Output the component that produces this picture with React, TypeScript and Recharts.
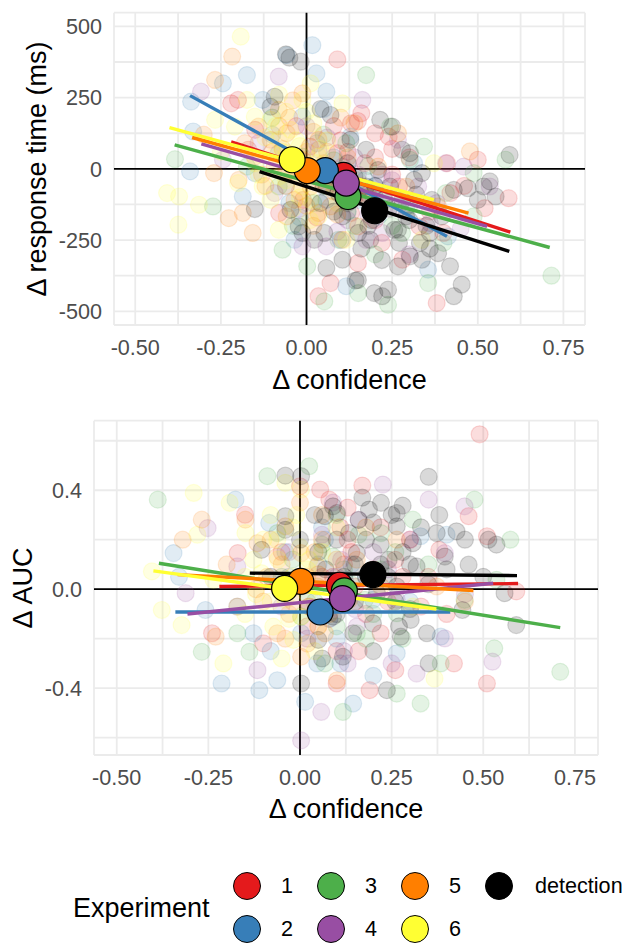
import React from "react";
import { ScatterChart, Scatter, XAxis, YAxis, CartesianGrid, ReferenceLine } from "recharts";

type Pt = [number, number];

const FONT = '"Liberation Sans", Arial, Helvetica, sans-serif';

const experiments = ["1", "2", "3", "4", "5", "6", "detection"];
const colors = ["#E41A1C", "#377EB8", "#4DAF4A", "#984EA3", "#FF7F00", "#FFFF33", "#000000"];

// axes
const confDomain = [-0.562, 0.813];
const confTicks = [-0.5, -0.375, -0.25, -0.125, 0, 0.125, 0.25, 0.375, 0.5, 0.625, 0.75];
const confMajor = [-0.5, -0.25, 0, 0.25, 0.5, 0.75];
const rtDomain = [-548, 548];
const rtTicks = [-500, -375, -250, -125, 0, 125, 250, 375, 500];
const rtMajor = [-500, -250, 0, 250, 500];
const aucDomain = [-0.67, 0.681];
const aucTicks = [-0.6, -0.4, -0.2, 0, 0.2, 0.4, 0.6];
const aucMajor = [-0.4, 0, 0.4];

// participants: [Δ confidence, Δ response time]
const rtExp1: Pt[] = [
  [0.09, 384], [-0.22, 230], [0.13, 160], [0.15, 168], [0.2, 125], [0.41, 20], [0.5, 32], [0.59, -103],
  [0.52, -138], [0.38, -471], [0.035, -447], [0.07, -401], [0.33, -202], [-0.08, -155], [-0.17, 67],
  [-0.15, 137], [0.16, 195], [0.24, 113], [0.27, -62], [0.42, -85], [0.13, -155], [-0.01, -109],
  [0.22, -260], [0.4, -225], [0.28, -319], [0.15, -331], [0.09, 55], [0.01, 78], [-0.06, -15],
  [-0.2, 242], [0.11, -40], [0.18, -90], [0.05, 10], [0.3, 40], [0.36, -150], [0.46, -60], [0.2, -180],
  [0.1, 100], [-0.03, 150], [0.25, -20], [0.12, 60], [0.17, 20], [0.06, -60], [0.2, 40], [0.14, -100],
  [0.03, -170], [0.25, 70], [0.08, 150],
];
const rtExp2: Pt[] = [
  [0.017, 434], [-0.058, 399], [-0.174, 329], [0.029, 335], [0.058, 271], [-0.337, 236], [-0.331, 131],
  [-0.34, -9], [-0.186, -97], [-0.035, -249], [0.116, -412], [0.355, -354], [0.413, -237], [-0.151, -15],
  [-0.081, 55], [0.128, 113], [-0.012, 183], [-0.128, 242], [0.209, -167], [0.291, -132], [0.314, 20],
  [-0.244, 300], [0.058, -109], [0.151, -109], [0.012, -27], [0.08, 40], [-0.1, 120], [0.2, -60],
  [0.1, -250], [-0.05, -120], [0.03, 90], [-0.03, 20], [0.09, -30], [-0.06, -60], [0.05, 210],
  [0.17, -40], [-0.02, -170], [0.12, -150],
];
const rtExp3: Pt[] = [
  [0.174, 329], [0.715, -375], [0.581, 32], [-0.384, 34], [-0.273, -132], [-0.07, -284], [0.002, -342],
  [0.052, -465], [0.238, -477], [0.355, -401], [0.343, 78], [0.244, 148], [0.116, 90], [0.198, -85],
  [0.279, -225], [0.407, -85], [0.488, -167], [-0.081, -62], [-0.174, 8], [0.093, -249], [0.151, -436],
  [0.058, -62], [-0.012, 43], [0.302, 32], [0.488, -15], [0.12, -150], [0.2, -300], [0.05, 120],
  [-0.1, 180], [0.3, -130], [0.15, -40], [0.4, -260], [0.25, -200], [0.08, 30], [0.02, -120],
  [0.14, -200], [0.18, 10], [0.1, -60], [-0.04, -200], [0.22, -120], [0.06, -30],
];
const rtExp4: Pt[] = [
  [-0.308, 271], [-0.081, 324], [0.174, -249], [0.221, -225], [0.058, -272], [0.407, 20], [0.459, 8],
  [0.36, -190], [0.163, 242], [0.035, 67], [0.105, 8], [0.267, -132], [-0.012, -272], [-0.14, 90],
  [-0.244, 32], [0.326, -62], [0.535, -62], [0.116, -109], [-0.093, -85], [0.267, 102], [0.08, -50],
  [0.2, -100], [0.15, -20], [0.45, -210], [0.3, -300], [0.0, 150], [0.12, -180], [-0.05, 20],
  [0.25, -40], [0.38, -120], [0.1, -80], [0.04, -20], [0.14, 40], [0.18, -160], [0.06, 110],
  [-0.02, -140], [0.22, -20], [0.09, -220],
];
const rtExp5: Pt[] = [
  [-0.217, 394], [-0.267, 312], [-0.27, -15], [-0.227, -173], [-0.186, -155], [-0.157, -225], [0.477, 61],
  [0.14, 160], [-0.012, 32], [-0.081, 207], [-0.105, 102], [-0.151, 43], [-0.198, -39], [-0.058, 125],
  [0.035, 102], [0.012, -62], [-0.035, -109], [0.07, -132], [0.105, -249], [0.151, -202], [0.209, 8],
  [0.267, 125], [-0.093, 8], [-0.012, 265], [0.035, -155], [-0.14, 148], [0.128, -39], [0.384, -132],
  [0.291, -62], [-0.058, -167], [0.0, 60], [-0.03, -20], [0.05, 20], [0.08, -80], [-0.12, -60],
  [0.02, -200], [-0.07, 70], [0.1, 180], [0.18, -100], [-0.3, 120], [-0.08, 150], [-0.1, 60],
  [-0.05, 180], [0.02, 130], [-0.02, -80], [0.04, -40], [-0.13, -20], [0.06, 60], [-0.06, -60],
  [0.12, 40], [0.16, -60], [-0.04, 240], [0.0, -130], [0.09, -160], [-0.18, 90],
];
const rtExp6: Pt[] = [
  [-0.192, 464], [-0.372, -97], [-0.314, -126], [-0.374, -196], [-0.081, -214], [-0.407, -85],
  [-0.047, 137], [-0.012, 242], [0.012, 300], [-0.174, 242], [-0.151, 183], [-0.105, 172], [-0.081, 102],
  [-0.058, 55], [-0.035, 8], [-0.012, -62], [0.012, -109], [0.035, -167], [0.105, 230], [0.116, -249],
  [-0.128, -62], [-0.081, -27], [0.035, 43], [-0.267, 172], [-0.209, 148], [-0.105, -109], [0.337, -249],
  [0.372, 20], [-0.02, 80], [-0.06, 200], [0.0, -20], [-0.15, 20], [0.06, 100], [-0.04, -140],
  [-0.1, 40], [0.02, 160], [-0.25, 60], [0.08, -60], [-0.09, 150], [-0.03, 100], [-0.07, 60],
  [0.0, 200], [0.04, 70], [-0.12, 110], [-0.02, -100], [0.05, -30], [-0.06, -40], [0.03, 20],
  [-0.14, -20], [-0.08, 260], [0.09, -120], [-0.2, -50], [0.01, -180],
];
const rtDetection: Pt[] = [
  [-0.06, 402], [-0.017, 376], [-0.05, 390], [-0.151, -141], [-0.023, -202], [0.052, -225], [0.058, -348],
  [0.105, -319], [0.143, -392], [0.15, -390], [0.198, -436], [0.221, -447], [0.238, -424], [0.267, -342],
  [0.302, -307], [0.337, -319], [0.36, -225], [0.384, -296], [0.419, -342], [0.43, -447], [0.453, -406],
  [0.43, -74], [0.471, -68], [0.535, -44], [0.552, -97], [0.593, 49], [0.215, 172], [0.25, 148],
  [0.279, 67], [0.302, 55], [0.337, -15], [0.314, -39], [0.174, 67], [0.128, 102], [0.07, 189],
  [0.041, 210], [-0.093, 253], [-0.105, 218], [-0.047, -144], [-0.012, -225], [0.023, -249],
  [0.105, -167], [0.151, -225], [0.186, -249], [0.227, -109], [0.256, -214], [0.291, -167], [0.331, -260],
  [0.366, -109], [0.395, -167], [0.5, -109], [0.517, -62], [0.174, -62], [0.209, -4], [0.14, -27],
  [0.093, -85], [0.244, -62], [0.267, -214], [0.12, -120], [0.19, -180], [0.28, -110], [0.35, -200],
  [0.1, -20], [0.15, -100], [0.2, -60], [0.24, -140], [0.3, -180], [0.05, -60], [0.08, -150],
  [0.16, -280], [0.22, -320], [0.27, -260], [0.32, -90], [0.12, 20], [0.04, -120], [0.18, -200],
  [0.36, -280],
];

// participants: [Δ confidence, Δ AUC]
const aucExp1: Pt[] = [
  [0.49, 0.626], [0.17, 0.419], [0.055, 0.403], [-0.15, 0.301], [0.46, 0.295], [0.51, 0.214],
  [0.51, -0.381], [0.59, -0.009], [0.19, -0.408], [0.1, -0.381], [0.26, -0.327], [-0.24, -0.178],
  [-0.1, -0.219], [0.0, 0.416], [0.08, 0.362], [0.13, 0.2], [0.38, 0.159], [-0.17, 0.146], [0.15, 0.011],
  [0.22, -0.178], [0.26, 0.119], [0.33, -0.07], [0.025, -0.07], [-0.06, 0.011], [0.11, 0.25],
  [0.2, 0.08], [0.3, 0.2], [0.4, -0.1], [0.05, -0.15], [0.16, -0.25], [0.09, 0.05], [0.35, 0.05],
  [-0.05, 0.15], [0.24, -0.05], [0.13, 0.33], [0.42, -0.3], [0.12, 0.1], [0.06, 0.05], [0.18, -0.1],
  [0.14, 0.15], [0.22, 0.25], [0.02, -0.15], [0.28, 0.05], [0.1, -0.25],
];
const aucExp2: Pt[] = [
  [-0.345, 0.146], [-0.176, 0.362], [-0.214, -0.381], [-0.111, -0.408], [0.014, -0.455], [0.145, -0.462],
  [0.384, -0.192], [0.4, 0.22], [0.329, 0.214], [-0.062, -0.368], [0.047, -0.3], [-0.258, -0.084],
  [-0.127, -0.178], [-0.084, 0.268], [0.068, 0.2], [0.123, 0.038], [0.199, -0.043], [0.264, -0.259],
  [0.003, -0.178], [-0.171, -0.07], [0.1, -0.2], [-0.03, 0.05], [0.2, -0.35], [0.05, 0.1], [0.3, -0.05],
  [-0.33, 0.05], [0.02, -0.05], [0.08, -0.12], [-0.04, 0.15], [0.14, 0.1], [0.06, 0.25], [-0.08, -0.25],
  [0.18, 0.05], [0.11, -0.3],
];
const aucExp3: Pt[] = [
  [-0.388, 0.362], [0.71, -0.334], [0.574, 0.2], [0.476, 0.362], [-0.089, 0.457], [0.025, 0.497],
  [-0.268, -0.253], [-0.138, -0.253], [0.117, -0.496], [0.329, -0.462], [0.53, -0.239], [0.384, -0.3],
  [0.264, -0.422], [-0.171, -0.178], [0.003, -0.111], [0.155, -0.178], [0.221, 0.227], [0.308, 0.281],
  [-0.062, 0.227], [0.09, 0.132], [0.177, -0.043], [0.449, -0.043], [0.264, -0.097], [0.068, -0.3],
  [0.536, 0.038], [0.12, 0.08], [0.2, -0.1], [0.35, 0.1], [-0.05, 0.05], [0.1, 0.3], [0.28, -0.2],
  [0.04, -0.05], [0.14, 0.02], [0.06, 0.18], [0.18, -0.2], [0.22, 0.08], [0.1, -0.15], [-0.02, 0.12],
  [0.26, 0.15], [0.16, 0.22],
];
const aucExp4: Pt[] = [
  [0.226, 0.423], [0.351, 0.362], [0.449, 0.335], [-0.312, -0.016], [-0.252, 0.247], [0.003, -0.611],
  [0.058, -0.496], [-0.116, -0.327], [0.525, -0.293], [0.395, -0.199], [0.318, -0.341], [0.155, -0.151],
  [0.112, 0.119], [0.395, 0.146], [-0.051, -0.07], [0.264, -0.043], [0.047, 0.011], [-0.171, 0.092],
  [0.12, -0.25], [0.2, 0.05], [0.08, -0.12], [0.3, 0.2], [0.16, 0.28], [-0.03, 0.15], [0.25, -0.3],
  [0.45, -0.02], [0.1, 0.05], [0.15, -0.08], [0.06, 0.22], [0.2, 0.15], [0.02, -0.2], [0.13, -0.3],
  [0.24, 0.08], [0.09, 0.35],
];
const aucExp5: Pt[] = [
  [-0.268, 0.281], [-0.23, -0.192], [-0.149, 0.281], [-0.116, 0.186], [-0.062, 0.132], [0.003, 0.146],
  [0.047, 0.092], [-0.018, 0.011], [0.025, -0.07], [0.068, -0.178], [0.101, -0.368], [-0.062, -0.178],
  [-0.171, -0.07], [0.155, 0.119], [0.221, 0.011], [0.264, 0.2], [0.134, -0.043], [0.373, 0.011],
  [-0.04, 0.254], [0.003, -0.273], [-0.09, 0.05], [0.0, 0.35], [0.06, 0.2], [-0.03, -0.1], [0.1, 0.03],
  [-0.2, 0.1], [0.45, -0.05], [-0.32, 0.2], [0.02, -0.22], [0.18, 0.25], [-0.1, -0.05], [0.05, 0.06],
  [-0.05, 0.1], [0.02, 0.05], [-0.08, 0.2], [0.04, 0.15], [-0.02, -0.05], [0.08, -0.1], [-0.12, 0.0],
  [0.06, 0.3], [-0.04, -0.2], [0.1, 0.12],
];
const aucExp6: Pt[] = [
  [-0.29, 0.389], [-0.192, 0.349], [-0.404, 0.072], [-0.377, -0.084], [-0.323, -0.145], [-0.209, -0.3],
  [0.367, -0.361], [-0.04, 0.43], [0.003, 0.403], [-0.062, 0.2], [-0.105, 0.065], [-0.04, -0.043],
  [0.003, -0.111], [-0.018, -0.205], [-0.073, -0.151], [0.047, 0.011], [-0.149, 0.227], [0.025, 0.119],
  [-0.127, 0.119], [0.123, 0.011], [-0.236, 0.038], [0.308, -0.07], [-0.02, 0.05], [-0.08, -0.05],
  [0.0, 0.17], [-0.05, -0.28], [0.05, -0.15], [-0.15, -0.1], [0.1, 0.25], [-0.01, 0.3], [-0.28, 0.22],
  [0.02, -0.02], [-0.06, 0.12], [-0.1, 0.2], [0.02, 0.08], [-0.03, -0.12], [-0.08, 0.3], [0.04, -0.25],
  [-0.12, -0.02], [0.06, 0.15], [-0.02, 0.25], [-0.15, 0.05],
];
const aucDetection: Pt[] = [
  [0.351, 0.454], [-0.04, 0.459], [0.003, 0.457], [0.28, 0.338], [0.264, 0.308], [0.221, 0.349],
  [0.188, 0.322], [0.09, 0.335], [0.068, 0.295], [-0.04, 0.295], [-0.105, 0.159], [-0.04, 0.24],
  [0.373, 0.227], [0.427, 0.234], [0.536, 0.18], [0.46, 0.099], [0.558, -0.016], [0.59, -0.145],
  [0.443, -0.084], [0.351, -0.3], [0.346, -0.178], [0.275, -0.192], [0.237, -0.408], [0.199, -0.138],
  [0.145, -0.178], [0.117, -0.273], [0.003, -0.381], [0.05, -0.205], [0.09, -0.111], [0.308, 0.186],
  [0.318, 0.092], [0.242, 0.119], [0.155, 0.146], [0.134, 0.227], [0.101, 0.308], [0.264, 0.254],
  [0.514, 0.2], [0.395, 0.132], [0.21, -0.016], [0.302, -0.124], [0.264, 0.011], [0.05, 0.15],
  [0.12, 0.05], [0.18, 0.2], [0.22, 0.1], [0.28, 0.15], [0.35, 0.02], [0.4, 0.08], [0.15, -0.05],
  [0.3, -0.08], [0.1, -0.1], [0.25, 0.3], [0.45, 0.2], [0.2, -0.25], [0.06, -0.28], [0.38, 0.3],
  [0.5, 0.05], [0.27, -0.15], [0.17, 0.37], [-0.08, 0.05], [0.0, 0.2], [0.1, 0.2], [0.15, 0.1],
  [0.2, 0.27], [0.24, 0.05], [0.3, 0.1], [0.07, 0.08], [0.12, -0.02], [0.18, 0.05], [0.26, -0.05],
  [0.33, 0.25], [0.22, 0.18], [0.04, 0.3], [0.16, 0.28],
];

const rtPoints = [rtExp1, rtExp2, rtExp3, rtExp4, rtExp5, rtExp6, rtDetection];
const aucPoints = [aucExp1, aucExp2, aucExp3, aucExp4, aucExp5, aucExp6, aucDetection];

// group means
const meanConf = [0.108, 0.055, 0.121, 0.116, 0.002, -0.042, 0.199];
const meanRt = [-23, -6, -97, -50, -6, 32, -147];
const meanAuc = [0.016, -0.092, -0.007, -0.038, 0.032, 0.003, 0.059];

// linear fits, drawn over each group's confidence range
const fitFrom = [-0.22, -0.34, -0.385, -0.307, -0.334, -0.4, -0.137];
const fitTo = [0.595, 0.41, 0.71, 0.527, 0.473, 0.372, 0.592];
const rtFitStart = [95, 257, 84, 88, 110, 145, -10];
const rtFitEnd = [-222, -237, -276, -202, -155, -109, -290];
const aucFitStart = [0.011, -0.092, 0.105, -0.1, 0.059, 0.074, 0.065];
const aucFitEnd = [0.023, -0.092, -0.155, 0.024, -0.005, -0.08, 0.055];

const fmtConf = (v: number) => (confMajor.includes(v) ? v.toFixed(2) : "");

const smallDot = (color: string) => (p: any) => (
  <circle cx={p.cx} cy={p.cy} r={8.5} fill={color} fillOpacity={0.15} stroke={color} strokeOpacity={0.15} strokeWidth={1.2} />
);
const bigDot = (p: any) => (
  <circle cx={p.cx} cy={p.cy} r={13} fill={colors[p.payload.g]} stroke="#000" strokeWidth={1.2} />
);
const noDot = () => <g />;

interface PanelProps {
  height: number;
  margin: { top: number; right: number; bottom: number; left: number };
  yWidth: number;
  yDomain: number[];
  yTicks: number[];
  fmtY: (v: number) => string;
  points: Pt[][];
  means: number[];
  fitStart: number[];
  fitEnd: number[];
}

function Panel({ height, margin, yWidth, yDomain, yTicks, fmtY, points, means, fitStart, fitEnd }: PanelProps) {
  const tickStyle = { fontSize: 21.6, fill: "#4D4D4D", fontFamily: FONT };
  return (
    <ScatterChart width={623} height={height} margin={margin}>
      <CartesianGrid stroke="#EBEBEB" strokeWidth={1.8} />
      <XAxis
        type="number"
        dataKey="x"
        domain={confDomain}
        ticks={confTicks}
        interval={0}
        allowDataOverflow
        axisLine={false}
        tickLine={false}
        tickSize={0}
        tickMargin={15}
        height={70}
        tick={tickStyle}
        tickFormatter={fmtConf}
      />
      <YAxis
        type="number"
        dataKey="y"
        domain={yDomain}
        ticks={yTicks}
        interval={0}
        allowDataOverflow
        axisLine={false}
        tickLine={false}
        tickSize={0}
        tickMargin={12}
        width={yWidth}
        tick={tickStyle}
        tickFormatter={fmtY}
      />
      <ReferenceLine x={0} stroke="#000" strokeWidth={1.8} />
      <ReferenceLine y={0} stroke="#000" strokeWidth={1.8} />
      {points.map((pts, i) => (
        <Scatter
          key={"pts" + i}
          data={pts.map(([x, y]) => ({ x, y }))}
          shape={smallDot(colors[i])}
          isAnimationActive={false}
        />
      ))}
      {experiments.map((e, i) => (
        <Scatter
          key={"fit" + e}
          data={[
            { x: fitFrom[i], y: fitStart[i] },
            { x: fitTo[i], y: fitEnd[i] },
          ]}
          line={{ stroke: colors[i], strokeWidth: 3.4 }}
          shape={noDot}
          isAnimationActive={false}
        />
      ))}
      <Scatter
        data={meanConf.map((x, g) => ({ x, y: means[g], g }))}
        shape={bigDot}
        isAnimationActive={false}
      />
    </ScatterChart>
  );
}

const titleStyle: React.CSSProperties = {
  position: "absolute",
  fontFamily: FONT,
  fontSize: 27,
  lineHeight: "27px",
  color: "#000",
  whiteSpace: "nowrap",
};

function Title({ x, y, text, rotate }: { x: number; y: number; text: string; rotate?: boolean }) {
  return (
    <div
      style={{
        ...titleStyle,
        left: x,
        top: y,
        transform: rotate ? "translate(-50%, -50%) rotate(-90deg)" : "translate(-50%, -50%)",
      }}
    >
      {text}
    </div>
  );
}

// legend: filled column by column, two rows
const legendCols = [247, 331, 415, 499];
const legendRows = [886, 929];

export default function App() {
  return (
    <div style={{ position: "absolute", left: 0, top: 0, width: 623, height: 944, background: "#fff", overflow: "hidden" }}>
      <div style={{ position: "absolute", left: 0, top: 0 }}>
        <Panel
          height={400}
          margin={{ top: 12.7, right: 38, bottom: 5, left: 0 }}
          yWidth={114}
          yDomain={rtDomain}
          yTicks={rtTicks}
          fmtY={(v) => (rtMajor.includes(v) ? String(v) : "")}
          points={rtPoints}
          means={meanRt}
          fitStart={rtFitStart}
          fitEnd={rtFitEnd}
        />
      </div>
      <div style={{ position: "absolute", left: 0, top: 400 }}>
        <Panel
          height={430}
          margin={{ top: 20.7, right: 25, bottom: 5, left: 0 }}
          yWidth={94}
          yDomain={aucDomain}
          yTicks={aucTicks}
          fmtY={(v) => (aucMajor.includes(v) ? v.toFixed(1) : "")}
          points={aucPoints}
          means={meanAuc}
          fitStart={aucFitStart}
          fitEnd={aucFitEnd}
        />
      </div>

      <Title x={349.5} y={380} text="Δ confidence" />
      <Title x={36.5} y={169} text="Δ response time (ms)" rotate />
      <Title x={346} y={809} text="Δ confidence" />
      <Title x={22.5} y={588} text="Δ AUC" rotate />

      <div style={{ ...titleStyle, left: 73, top: 894.5 }}>Experiment</div>
      {experiments.map((e, i) => {
        const cx = legendCols[Math.floor(i / 2)];
        const cy = legendRows[i % 2];
        return (
          <React.Fragment key={"leg" + e}>
            <div
              style={{
                position: "absolute",
                left: cx - 14,
                top: cy - 14,
                width: 26,
                height: 26,
                borderRadius: "50%",
                background: colors[i],
                border: "1px solid #000",
              }}
            />
            <div
              style={{
                position: "absolute",
                left: cx + (e === "detection" ? 36 : 34),
                top: cy - 12,
                fontFamily: FONT,
                fontSize: 21.6,
                lineHeight: "24px",
                color: "#000",
                whiteSpace: "nowrap",
              }}
            >
              {e}
            </div>
          </React.Fragment>
        );
      })}
    </div>
  );
}
